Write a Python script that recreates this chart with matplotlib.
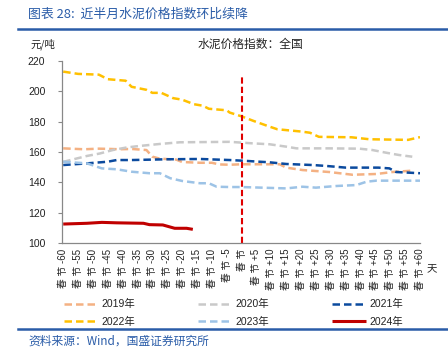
import matplotlib
matplotlib.use("Agg")
import matplotlib.pyplot as plt
from matplotlib.lines import Line2D

plt.rcParams['font.family'] = ['Liberation Sans', 'Noto Sans CJK SC', 'DejaVu Sans']

# ---- data (days relative to Spring Festival, index value) ----
x_2019 = [-60, -53, -48, -44, -41, -37, -32, -30, -27.5, -22, -20, -14, -10, -7.5, -4, 0, 12.8, 15, 20.5, 29.5, 37.3, 45.3, 50.7, 57.4]
y_2019 = [162.4, 161.8, 162.2, 162, 161.8, 162, 161.3, 156.9, 155.6, 155, 153.4, 152.9, 152.9, 151.8, 151.6, 151.9, 151.9, 149.7, 148.1, 146.8, 145, 145.5, 146.8, 147.7]

x_2020 = [-60, -52, -47.7, -43.3, -38.6, -34.2, -27.5, -20.8, -4, 3.7, 9.4, 15.1, 18.5, 29.5, 39.6, 44, 48.7, 53, 57.4]
y_2020 = [153.5, 157.4, 159, 161.3, 163, 164, 165.3, 166.4, 166.7, 165.7, 165.1, 163.5, 162.4, 162.4, 162.2, 161.3, 159.5, 158, 156.9]

x_2021 = [-60, -52, -45, -42, -37, -25, -14, -4, 0, 9.4, 15, 24, 28.5, 35, 46, 49.7, 52, 60]
y_2021 = [151.4, 152.5, 153.6, 154.7, 154.7, 155.2, 155.4, 154.7, 154.3, 153.2, 152.1, 151.4, 150.8, 149.7, 149.7, 149.2, 146.8, 146]

x_2022 = [-60, -55, -48, -45, -39, -37, -32, -30, -27, -23, -20, -16, -13, -11, -5, -4, 0, 4, 9, 12, 20, 23, 26, 37, 43, 56, 60]
y_2022 = [213, 211.5, 211, 208, 207, 203, 201, 199, 199, 195.5, 194.5, 191.5, 190.5, 188.5, 187.5, 186, 183.5, 180.5, 177, 175, 173.5, 172.7, 170, 169.7, 168.4, 168, 169.8]

x_2023 = [-60, -52, -47, -42, -37, -31, -27.5, -24, -20, -14, -11, -8.4, -4, 0, 15, 20.5, 25, 32, 38.6, 42, 45.3, 60]
y_2023 = [153.6, 152.5, 149.2, 148.6, 147, 146, 146, 142.7, 140.9, 139.4, 139.4, 137.1, 136.9, 136.9, 136, 137.1, 136.5, 137.6, 138.2, 140.4, 141.1, 141.1]

x_2024 = [-60, -52, -47, -42, -33, -31, -26.5, -22.5, -18.5, -16.4]
y_2024 = [112.5, 113, 113.6, 113.3, 113, 112.1, 111.9, 109.7, 109.7, 109]

tick_days = list(range(-60, 61, 5))
tick_labels = [("春 节" if d == 0 else ("春 节 %+d" % d)) for d in tick_days]

labels = ["2019年", "2020年", "2021年", "2022年", "2023年", "2024年"]
colors = ["#F4B183", "#C9C9C9", "#0B4A9E", "#FFC000", "#9DC3E6", "#C00000"]

BLUE = "#2A5CA8"

fig = plt.figure(figsize=(4.48, 3.62), dpi=100)
ax = fig.add_axes([62/448, 1-243/362, (420-62)/448, (243-61)/362])

series = [(x_2019, y_2019), (x_2020, y_2020), (x_2021, y_2021),
          (x_2022, y_2022), (x_2023, y_2023), (x_2024, y_2024)]
handles = []
for (xs, ys), lab, c in zip(series, labels, colors):
    if lab == "2024年":
        ln, = ax.plot(xs, ys, color=c, lw=2.2, solid_capstyle='butt', label=lab)
    else:
        ln, = ax.plot(xs, ys, color=c, lw=1.8, ls=(0, (3, 1.6)), label=lab)
    handles.append(ln)

ax.axvline(0, ymin=0, ymax=(210-100)/120, color="#E00000", lw=1.5, ls=(0, (3, 1.5)))

ax.set_xlim(-60.4, 60)
ax.set_ylim(100, 220)
ax.set_yticks(range(100, 221, 20))
ax.set_xticks(tick_days)
ax.set_xticklabels(tick_labels, rotation=90, fontsize=7, va='top', ha='center')
ax.tick_params(axis='y', labelsize=7.5, length=3, width=0.8, color="#888888", pad=9, labelcolor="#222222")
ax.tick_params(axis='x', length=0, pad=4, labelcolor="#222222")
for s in ['top', 'right']:
    ax.spines[s].set_visible(False)
for s in ['left', 'bottom']:
    ax.spines[s].set_color("#888888")
    ax.spines[s].set_linewidth(0.9)

# texts
fig.text(28/448, 1-14/362, "图表 28:  近半月水泥价格指数环比续降", color=BLUE, fontsize=9.3,
         va='center', ha='left', family=['Noto Sans CJK SC', 'DejaVu Sans'])
fig.add_artist(Line2D([18/448, 1], [1-29/362, 1-29/362], color=BLUE, lw=1.8))
fig.text(30/448, 1-44/362, "元/吨", fontsize=7.5, va='center', ha='left', color="#222222",
         family=['Noto Sans CJK SC', 'DejaVu Sans'])
fig.text(250/448, 1-44/362, "水泥价格指数：全国", fontsize=8.5, va='center', ha='center', color="#222222",
         family=['Noto Sans CJK SC', 'DejaVu Sans'])
fig.text(432/448, 1-269/362, "天", fontsize=7.5, va='center', ha='center', color="#222222",
         family=['Noto Sans CJK SC', 'DejaVu Sans'])

# legend in row-major order (matplotlib fills columns first)
order = [0, 3, 1, 4, 2, 5]
leg = fig.legend(handles=[handles[i] for i in order], labels=[labels[i] for i in order],
                 ncol=3, mode='expand',
                 bbox_to_anchor=(62/448, 1-332/362, 343/448, 38/362), loc='center',
                 frameon=False, fontsize=7.5, handlelength=3.2, handletextpad=0.35,
                 labelspacing=0.7, borderpad=0.2, borderaxespad=0)
for t in leg.get_texts():
    t.set_color("#222222")

fig.add_artist(Line2D([18/448, 1], [1-329/362, 1-329/362], color=BLUE, lw=1.8))
fig.text(28/448, 1-341/362, "资料来源：Wind，国盛证券研究所", color=BLUE, fontsize=8.5,
         va='center', ha='left', family=['Noto Sans CJK SC', 'DejaVu Sans'])

fig.savefig("out.png", dpi=100)
